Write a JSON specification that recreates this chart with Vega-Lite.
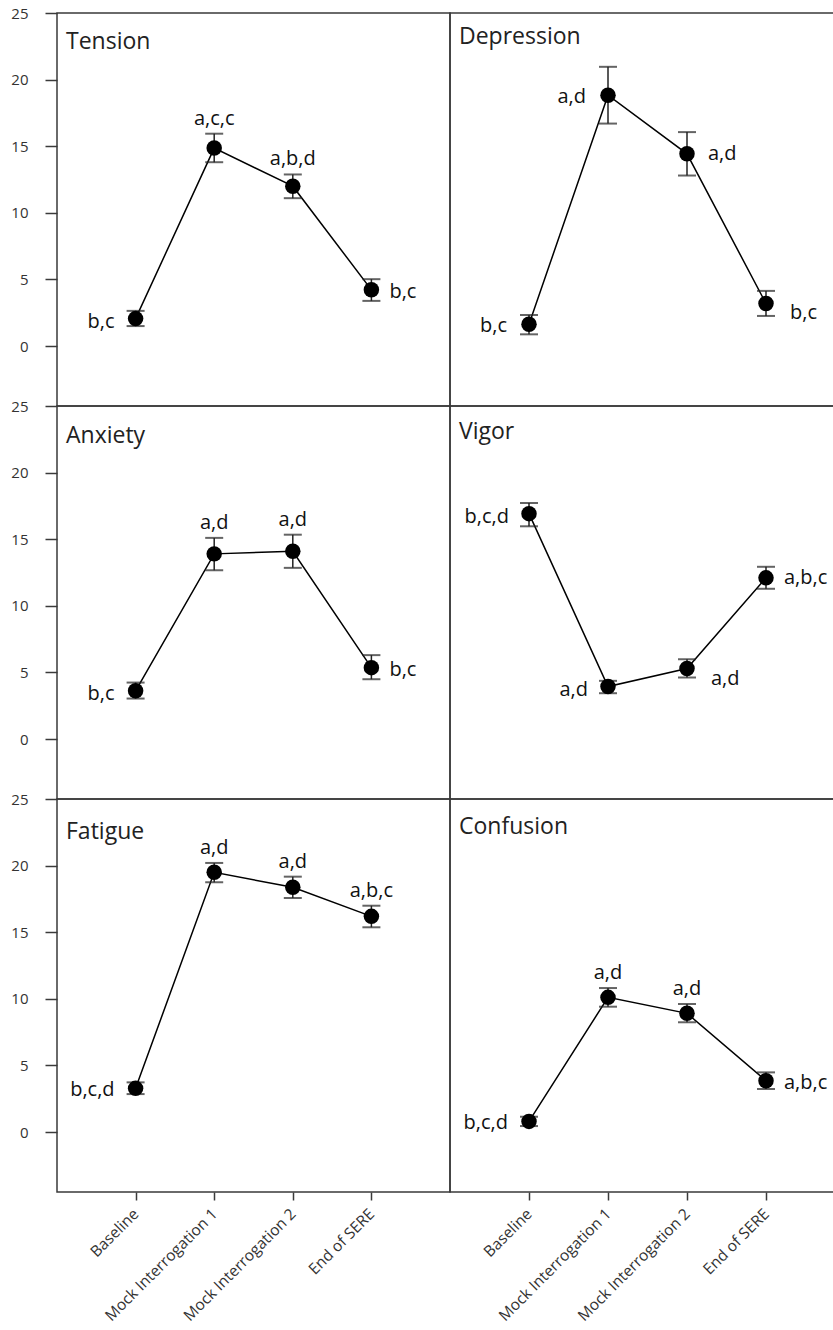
{
  "$schema": "https://vega.github.io/schema/vega-lite/v6.json",
  "padding": {"left": 10, "top": 5, "right": 0, "bottom": 0},
  "background": "white",
  "data": {"values": [
    {"scale": "Tension", "time": "Baseline", "mean": 2.06, "lo": 1.5, "hi": 2.64, "label": "b,c", "side": "left"},
    {"scale": "Tension", "time": "Mock Interrogation 1", "mean": 14.86, "lo": 13.8, "hi": 15.94, "label": "a,c,c", "side": "above"},
    {"scale": "Tension", "time": "Mock Interrogation 2", "mean": 12.0, "lo": 11.1, "hi": 12.88, "label": "a,b,d", "side": "above"},
    {"scale": "Tension", "time": "End of SERE", "mean": 4.22, "lo": 3.39, "hi": 5.02, "label": "b,c", "side": "right"},
    {"scale": "Depression", "time": "Baseline", "mean": 1.63, "lo": 0.88, "hi": 2.33, "label": "b,c", "side": "left"},
    {"scale": "Depression", "time": "Mock Interrogation 1", "mean": 18.83, "lo": 16.7, "hi": 20.96, "label": "a,d", "side": "left"},
    {"scale": "Depression", "time": "Mock Interrogation 2", "mean": 14.43, "lo": 12.8, "hi": 16.06, "label": "a,d", "side": "right"},
    {"scale": "Depression", "time": "End of SERE", "mean": 3.19, "lo": 2.26, "hi": 4.14, "label": "b,c", "side": "rightlow"},
    {"scale": "Anxiety", "time": "Baseline", "mean": 3.62, "lo": 3.04, "hi": 4.24, "label": "b,c", "side": "left"},
    {"scale": "Anxiety", "time": "Mock Interrogation 1", "mean": 13.9, "lo": 12.67, "hi": 15.1, "label": "a,d", "side": "above"},
    {"scale": "Anxiety", "time": "Mock Interrogation 2", "mean": 14.09, "lo": 12.85, "hi": 15.34, "label": "a,d", "side": "above"},
    {"scale": "Anxiety", "time": "End of SERE", "mean": 5.36, "lo": 4.49, "hi": 6.3, "label": "b,c", "side": "right"},
    {"scale": "Vigor", "time": "Baseline", "mean": 16.92, "lo": 15.97, "hi": 17.72, "label": "b,c,d", "side": "left"},
    {"scale": "Vigor", "time": "Mock Interrogation 1", "mean": 3.94, "lo": 3.44, "hi": 4.37, "label": "a,d", "side": "left"},
    {"scale": "Vigor", "time": "Mock Interrogation 2", "mean": 5.29, "lo": 4.62, "hi": 5.99, "label": "a,d", "side": "rightlow"},
    {"scale": "Vigor", "time": "End of SERE", "mean": 12.1, "lo": 11.28, "hi": 12.93, "label": "a,b,c", "side": "right"},
    {"scale": "Fatigue", "time": "Baseline", "mean": 3.28, "lo": 2.85, "hi": 3.73, "label": "b,c,d", "side": "left"},
    {"scale": "Fatigue", "time": "Mock Interrogation 1", "mean": 19.5, "lo": 18.75, "hi": 20.2, "label": "a,d", "side": "above"},
    {"scale": "Fatigue", "time": "Mock Interrogation 2", "mean": 18.37, "lo": 17.57, "hi": 19.17, "label": "a,d", "side": "above"},
    {"scale": "Fatigue", "time": "End of SERE", "mean": 16.19, "lo": 15.37, "hi": 16.99, "label": "a,b,c", "side": "above"},
    {"scale": "Confusion", "time": "Baseline", "mean": 0.8, "lo": 0.45, "hi": 1.15, "label": "b,c,d", "side": "left"},
    {"scale": "Confusion", "time": "Mock Interrogation 1", "mean": 10.11, "lo": 9.41, "hi": 10.81, "label": "a,d", "side": "above"},
    {"scale": "Confusion", "time": "Mock Interrogation 2", "mean": 8.91, "lo": 8.24, "hi": 9.61, "label": "a,d", "side": "above"},
    {"scale": "Confusion", "time": "End of SERE", "mean": 3.85, "lo": 3.23, "hi": 4.48, "label": "a,b,c", "side": "right"}
  ]},
  "bounds": "flush",
  "spacing": 0,
  "columns": 2,
  "concat": [
      {"title": {"text": "Tension", "offset": -48}, "width": 393, "height": 393,
       "transform": [{"filter": "datum.scale == 'Tension'"}],
       "encoding": {"x": {"field": "time", "type": "nominal", "sort": ["Baseline", "Mock Interrogation 1", "Mock Interrogation 2", "End of SERE"], "scale": {"type": "point", "padding": 1}, "axis": null}},
       "layer": [
        {"mark": {"type": "line", "color": "black", "strokeWidth": 1.5}, "encoding": {"y": {"field": "mean", "type": "quantitative", "scale": {"domain": [-4.5, 25], "nice": false, "zero": false}, "axis": {"title": null, "values": [0, 5, 10, 15, 20, 25]}}}},
        {"mark": {"type": "rule", "color": "#222", "strokeWidth": 1.5}, "encoding": {"y": {"field": "lo", "type": "quantitative", "scale": {"domain": [-4.5, 25], "nice": false, "zero": false}, "axis": {"title": null, "values": [0, 5, 10, 15, 20, 25]}}, "y2": {"field": "hi"}}},
        {"mark": {"type": "tick", "color": "#222", "size": 18, "thickness": 2}, "encoding": {"y": {"field": "lo", "type": "quantitative", "scale": {"domain": [-4.5, 25], "nice": false, "zero": false}, "axis": {"title": null, "values": [0, 5, 10, 15, 20, 25]}}}},
        {"mark": {"type": "tick", "color": "#222", "size": 18, "thickness": 2}, "encoding": {"y": {"field": "hi", "type": "quantitative", "scale": {"domain": [-4.5, 25], "nice": false, "zero": false}, "axis": {"title": null, "values": [0, 5, 10, 15, 20, 25]}}}},
        {"mark": {"type": "circle", "color": "black", "size": 240, "opacity": 1}, "encoding": {"y": {"field": "mean", "type": "quantitative", "scale": {"domain": [-4.5, 25], "nice": false, "zero": false}, "axis": {"title": null, "values": [0, 5, 10, 15, 20, 25]}}}},
        {"transform": [{"filter": "datum.side == 'left'"}], "mark": {"type": "text", "align": "right", "baseline": "alphabetic", "dx": -21, "dy": 9, "fontSize": 20, "font": "Open Sans", "color": "#111"}, "encoding": {"y": {"field": "mean", "type": "quantitative", "scale": {"domain": [-4.5, 25], "nice": false, "zero": false}, "axis": {"title": null, "values": [0, 5, 10, 15, 20, 25]}}, "text": {"field": "label"}}},
        {"transform": [{"filter": "datum.side == 'right'"}], "mark": {"type": "text", "align": "left", "baseline": "alphabetic", "dx": 18, "dy": 8, "fontSize": 20, "font": "Open Sans", "color": "#111"}, "encoding": {"y": {"field": "mean", "type": "quantitative", "scale": {"domain": [-4.5, 25], "nice": false, "zero": false}, "axis": {"title": null, "values": [0, 5, 10, 15, 20, 25]}}, "text": {"field": "label"}}},
        {"transform": [{"filter": "datum.side == 'above'"}], "mark": {"type": "text", "align": "center", "baseline": "alphabetic", "dy": -9, "fontSize": 20, "font": "Open Sans", "color": "#111"}, "encoding": {"y": {"field": "hi", "type": "quantitative", "scale": {"domain": [-4.5, 25], "nice": false, "zero": false}, "axis": {"title": null, "values": [0, 5, 10, 15, 20, 25]}}, "text": {"field": "label"}}}
       ]},
      {"title": {"text": "Depression", "offset": -36}, "width": 384, "height": 393,
       "transform": [{"filter": "datum.scale == 'Depression'"}],
       "encoding": {"x": {"field": "time", "type": "nominal", "sort": ["Baseline", "Mock Interrogation 1", "Mock Interrogation 2", "End of SERE"], "scale": {"type": "point", "padding": 0, "range": [79, 316]}, "axis": null}},
       "layer": [
        {"mark": {"type": "line", "color": "black", "strokeWidth": 1.5}, "encoding": {"y": {"field": "mean", "type": "quantitative", "scale": {"domain": [-4.5, 25], "nice": false, "zero": false}, "axis": null}}},
        {"mark": {"type": "rule", "color": "#222", "strokeWidth": 1.5}, "encoding": {"y": {"field": "lo", "type": "quantitative", "scale": {"domain": [-4.5, 25], "nice": false, "zero": false}, "axis": null}, "y2": {"field": "hi"}}},
        {"mark": {"type": "tick", "color": "#222", "size": 18, "thickness": 2}, "encoding": {"y": {"field": "lo", "type": "quantitative", "scale": {"domain": [-4.5, 25], "nice": false, "zero": false}, "axis": null}}},
        {"mark": {"type": "tick", "color": "#222", "size": 18, "thickness": 2}, "encoding": {"y": {"field": "hi", "type": "quantitative", "scale": {"domain": [-4.5, 25], "nice": false, "zero": false}, "axis": null}}},
        {"mark": {"type": "circle", "color": "black", "size": 240, "opacity": 1}, "encoding": {"y": {"field": "mean", "type": "quantitative", "scale": {"domain": [-4.5, 25], "nice": false, "zero": false}, "axis": null}}},
        {"transform": [{"filter": "datum.side == 'left'"}], "mark": {"type": "text", "align": "right", "baseline": "alphabetic", "dx": -22, "dy": 8, "fontSize": 20, "font": "Open Sans", "color": "#111"}, "encoding": {"y": {"field": "mean", "type": "quantitative", "scale": {"domain": [-4.5, 25], "nice": false, "zero": false}, "axis": null}, "text": {"field": "label"}}},
        {"transform": [{"filter": "datum.side == 'right'"}], "mark": {"type": "text", "align": "left", "baseline": "alphabetic", "dx": 21, "dy": 6, "fontSize": 20, "font": "Open Sans", "color": "#111"}, "encoding": {"y": {"field": "mean", "type": "quantitative", "scale": {"domain": [-4.5, 25], "nice": false, "zero": false}, "axis": null}, "text": {"field": "label"}}},
        {"transform": [{"filter": "datum.side == 'rightlow'"}], "mark": {"type": "text", "align": "left", "baseline": "alphabetic", "dx": 24, "dy": 15, "fontSize": 20, "font": "Open Sans", "color": "#111"}, "encoding": {"y": {"field": "mean", "type": "quantitative", "scale": {"domain": [-4.5, 25], "nice": false, "zero": false}, "axis": null}, "text": {"field": "label"}}}
       ]},
      {"title": {"text": "Anxiety", "offset": -49}, "width": 393, "height": 393,
       "transform": [{"filter": "datum.scale == 'Anxiety'"}],
       "encoding": {"x": {"field": "time", "type": "nominal", "sort": ["Baseline", "Mock Interrogation 1", "Mock Interrogation 2", "End of SERE"], "scale": {"type": "point", "padding": 1}, "axis": null}},
       "layer": [
        {"mark": {"type": "line", "color": "black", "strokeWidth": 1.5}, "encoding": {"y": {"field": "mean", "type": "quantitative", "scale": {"domain": [-4.5, 25], "nice": false, "zero": false}, "axis": {"title": null, "values": [0, 5, 10, 15, 20, 25]}}}},
        {"mark": {"type": "rule", "color": "#222", "strokeWidth": 1.5}, "encoding": {"y": {"field": "lo", "type": "quantitative", "scale": {"domain": [-4.5, 25], "nice": false, "zero": false}, "axis": {"title": null, "values": [0, 5, 10, 15, 20, 25]}}, "y2": {"field": "hi"}}},
        {"mark": {"type": "tick", "color": "#222", "size": 18, "thickness": 2}, "encoding": {"y": {"field": "lo", "type": "quantitative", "scale": {"domain": [-4.5, 25], "nice": false, "zero": false}, "axis": {"title": null, "values": [0, 5, 10, 15, 20, 25]}}}},
        {"mark": {"type": "tick", "color": "#222", "size": 18, "thickness": 2}, "encoding": {"y": {"field": "hi", "type": "quantitative", "scale": {"domain": [-4.5, 25], "nice": false, "zero": false}, "axis": {"title": null, "values": [0, 5, 10, 15, 20, 25]}}}},
        {"mark": {"type": "circle", "color": "black", "size": 240, "opacity": 1}, "encoding": {"y": {"field": "mean", "type": "quantitative", "scale": {"domain": [-4.5, 25], "nice": false, "zero": false}, "axis": {"title": null, "values": [0, 5, 10, 15, 20, 25]}}}},
        {"transform": [{"filter": "datum.side == 'left'"}], "mark": {"type": "text", "align": "right", "baseline": "alphabetic", "dx": -21, "dy": 9, "fontSize": 20, "font": "Open Sans", "color": "#111"}, "encoding": {"y": {"field": "mean", "type": "quantitative", "scale": {"domain": [-4.5, 25], "nice": false, "zero": false}, "axis": {"title": null, "values": [0, 5, 10, 15, 20, 25]}}, "text": {"field": "label"}}},
        {"transform": [{"filter": "datum.side == 'right'"}], "mark": {"type": "text", "align": "left", "baseline": "alphabetic", "dx": 18, "dy": 8, "fontSize": 20, "font": "Open Sans", "color": "#111"}, "encoding": {"y": {"field": "mean", "type": "quantitative", "scale": {"domain": [-4.5, 25], "nice": false, "zero": false}, "axis": {"title": null, "values": [0, 5, 10, 15, 20, 25]}}, "text": {"field": "label"}}},
        {"transform": [{"filter": "datum.side == 'above'"}], "mark": {"type": "text", "align": "center", "baseline": "alphabetic", "dy": -9, "fontSize": 20, "font": "Open Sans", "color": "#111"}, "encoding": {"y": {"field": "hi", "type": "quantitative", "scale": {"domain": [-4.5, 25], "nice": false, "zero": false}, "axis": {"title": null, "values": [0, 5, 10, 15, 20, 25]}}, "text": {"field": "label"}}}
       ]},
      {"title": {"text": "Vigor", "offset": -38}, "width": 384, "height": 393,
       "transform": [{"filter": "datum.scale == 'Vigor'"}],
       "encoding": {"x": {"field": "time", "type": "nominal", "sort": ["Baseline", "Mock Interrogation 1", "Mock Interrogation 2", "End of SERE"], "scale": {"type": "point", "padding": 0, "range": [79, 316]}, "axis": null}},
       "layer": [
        {"mark": {"type": "line", "color": "black", "strokeWidth": 1.5}, "encoding": {"y": {"field": "mean", "type": "quantitative", "scale": {"domain": [-4.5, 25], "nice": false, "zero": false}, "axis": null}}},
        {"mark": {"type": "rule", "color": "#222", "strokeWidth": 1.5}, "encoding": {"y": {"field": "lo", "type": "quantitative", "scale": {"domain": [-4.5, 25], "nice": false, "zero": false}, "axis": null}, "y2": {"field": "hi"}}},
        {"mark": {"type": "tick", "color": "#222", "size": 18, "thickness": 2}, "encoding": {"y": {"field": "lo", "type": "quantitative", "scale": {"domain": [-4.5, 25], "nice": false, "zero": false}, "axis": null}}},
        {"mark": {"type": "tick", "color": "#222", "size": 18, "thickness": 2}, "encoding": {"y": {"field": "hi", "type": "quantitative", "scale": {"domain": [-4.5, 25], "nice": false, "zero": false}, "axis": null}}},
        {"mark": {"type": "circle", "color": "black", "size": 240, "opacity": 1}, "encoding": {"y": {"field": "mean", "type": "quantitative", "scale": {"domain": [-4.5, 25], "nice": false, "zero": false}, "axis": null}}},
        {"transform": [{"filter": "datum.side == 'left'"}], "mark": {"type": "text", "align": "right", "baseline": "alphabetic", "dx": -20, "dy": 9, "fontSize": 20, "font": "Open Sans", "color": "#111"}, "encoding": {"y": {"field": "mean", "type": "quantitative", "scale": {"domain": [-4.5, 25], "nice": false, "zero": false}, "axis": null}, "text": {"field": "label"}}},
        {"transform": [{"filter": "datum.side == 'right'"}], "mark": {"type": "text", "align": "left", "baseline": "alphabetic", "dx": 18, "dy": 6, "fontSize": 20, "font": "Open Sans", "color": "#111"}, "encoding": {"y": {"field": "mean", "type": "quantitative", "scale": {"domain": [-4.5, 25], "nice": false, "zero": false}, "axis": null}, "text": {"field": "label"}}},
        {"transform": [{"filter": "datum.side == 'rightlow'"}], "mark": {"type": "text", "align": "left", "baseline": "alphabetic", "dx": 24, "dy": 16, "fontSize": 20, "font": "Open Sans", "color": "#111"}, "encoding": {"y": {"field": "mean", "type": "quantitative", "scale": {"domain": [-4.5, 25], "nice": false, "zero": false}, "axis": null}, "text": {"field": "label"}}}
       ]},
      {"title": {"text": "Fatigue", "offset": -52}, "width": 393, "height": 393,
       "transform": [{"filter": "datum.scale == 'Fatigue'"}],
       "encoding": {"x": {"field": "time", "type": "nominal", "sort": ["Baseline", "Mock Interrogation 1", "Mock Interrogation 2", "End of SERE"], "scale": {"type": "point", "padding": 1}, "axis": {"title": null}}},
       "layer": [
        {"mark": {"type": "line", "color": "black", "strokeWidth": 1.5}, "encoding": {"y": {"field": "mean", "type": "quantitative", "scale": {"domain": [-4.5, 25], "nice": false, "zero": false}, "axis": {"title": null, "values": [0, 5, 10, 15, 20, 25]}}}},
        {"mark": {"type": "rule", "color": "#222", "strokeWidth": 1.5}, "encoding": {"y": {"field": "lo", "type": "quantitative", "scale": {"domain": [-4.5, 25], "nice": false, "zero": false}, "axis": {"title": null, "values": [0, 5, 10, 15, 20, 25]}}, "y2": {"field": "hi"}}},
        {"mark": {"type": "tick", "color": "#222", "size": 18, "thickness": 2}, "encoding": {"y": {"field": "lo", "type": "quantitative", "scale": {"domain": [-4.5, 25], "nice": false, "zero": false}, "axis": {"title": null, "values": [0, 5, 10, 15, 20, 25]}}}},
        {"mark": {"type": "tick", "color": "#222", "size": 18, "thickness": 2}, "encoding": {"y": {"field": "hi", "type": "quantitative", "scale": {"domain": [-4.5, 25], "nice": false, "zero": false}, "axis": {"title": null, "values": [0, 5, 10, 15, 20, 25]}}}},
        {"mark": {"type": "circle", "color": "black", "size": 240, "opacity": 1}, "encoding": {"y": {"field": "mean", "type": "quantitative", "scale": {"domain": [-4.5, 25], "nice": false, "zero": false}, "axis": {"title": null, "values": [0, 5, 10, 15, 20, 25]}}}},
        {"transform": [{"filter": "datum.side == 'left'"}], "mark": {"type": "text", "align": "right", "baseline": "alphabetic", "dx": -21, "dy": 8, "fontSize": 20, "font": "Open Sans", "color": "#111"}, "encoding": {"y": {"field": "mean", "type": "quantitative", "scale": {"domain": [-4.5, 25], "nice": false, "zero": false}, "axis": {"title": null, "values": [0, 5, 10, 15, 20, 25]}}, "text": {"field": "label"}}},
        {"transform": [{"filter": "datum.side == 'above'"}], "mark": {"type": "text", "align": "center", "baseline": "alphabetic", "dy": -9, "fontSize": 20, "font": "Open Sans", "color": "#111"}, "encoding": {"y": {"field": "hi", "type": "quantitative", "scale": {"domain": [-4.5, 25], "nice": false, "zero": false}, "axis": {"title": null, "values": [0, 5, 10, 15, 20, 25]}}, "text": {"field": "label"}}}
       ]},
      {"title": {"text": "Confusion", "offset": -40}, "width": 384, "height": 393,
       "transform": [{"filter": "datum.scale == 'Confusion'"}],
       "encoding": {"x": {"field": "time", "type": "nominal", "sort": ["Baseline", "Mock Interrogation 1", "Mock Interrogation 2", "End of SERE"], "scale": {"type": "point", "padding": 0, "range": [79, 316]}, "axis": {"title": null}}},
       "layer": [
        {"mark": {"type": "line", "color": "black", "strokeWidth": 1.5}, "encoding": {"y": {"field": "mean", "type": "quantitative", "scale": {"domain": [-4.5, 25], "nice": false, "zero": false}, "axis": null}}},
        {"mark": {"type": "rule", "color": "#222", "strokeWidth": 1.5}, "encoding": {"y": {"field": "lo", "type": "quantitative", "scale": {"domain": [-4.5, 25], "nice": false, "zero": false}, "axis": null}, "y2": {"field": "hi"}}},
        {"mark": {"type": "tick", "color": "#222", "size": 18, "thickness": 2}, "encoding": {"y": {"field": "lo", "type": "quantitative", "scale": {"domain": [-4.5, 25], "nice": false, "zero": false}, "axis": null}}},
        {"mark": {"type": "tick", "color": "#222", "size": 18, "thickness": 2}, "encoding": {"y": {"field": "hi", "type": "quantitative", "scale": {"domain": [-4.5, 25], "nice": false, "zero": false}, "axis": null}}},
        {"mark": {"type": "circle", "color": "black", "size": 240, "opacity": 1}, "encoding": {"y": {"field": "mean", "type": "quantitative", "scale": {"domain": [-4.5, 25], "nice": false, "zero": false}, "axis": null}}},
        {"transform": [{"filter": "datum.side == 'left'"}], "mark": {"type": "text", "align": "right", "baseline": "alphabetic", "dx": -21, "dy": 8, "fontSize": 20, "font": "Open Sans", "color": "#111"}, "encoding": {"y": {"field": "mean", "type": "quantitative", "scale": {"domain": [-4.5, 25], "nice": false, "zero": false}, "axis": null}, "text": {"field": "label"}}},
        {"transform": [{"filter": "datum.side == 'right'"}], "mark": {"type": "text", "align": "left", "baseline": "alphabetic", "dx": 18, "dy": 8, "fontSize": 20, "font": "Open Sans", "color": "#111"}, "encoding": {"y": {"field": "mean", "type": "quantitative", "scale": {"domain": [-4.5, 25], "nice": false, "zero": false}, "axis": null}, "text": {"field": "label"}}},
        {"transform": [{"filter": "datum.side == 'above'"}], "mark": {"type": "text", "align": "center", "baseline": "alphabetic", "dy": -9, "fontSize": 20, "font": "Open Sans", "color": "#111"}, "encoding": {"y": {"field": "hi", "type": "quantitative", "scale": {"domain": [-4.5, 25], "nice": false, "zero": false}, "axis": null}, "text": {"field": "label"}}}
       ]}
  ],
  "config": {
    "view": {"stroke": "#3a3a3a", "strokeWidth": 1.5},
    "title": {"anchor": "start", "frame": "group", "offset": -36, "dx": 9, "baseline": "alphabetic", "fontSize": 23, "font": "Open Sans", "fontWeight": "normal", "color": "#222"},
    "axisY": {"domain": false, "grid": false, "ticks": true, "tickSize": 12, "tickColor": "#3a3a3a", "tickWidth": 1.5, "labelFont": "Open Sans", "labelFontSize": 15, "labelColor": "#333", "labelPadding": 17},
    "axisX": {"domain": false, "grid": false, "ticks": true, "tickSize": 8, "tickColor": "#3a3a3a", "tickWidth": 1.5, "labelAngle": -45, "labelBaseline": "middle", "labelFont": "Open Sans", "labelFontSize": 15.5, "labelColor": "#333", "labelPadding": 11}
  }
}
